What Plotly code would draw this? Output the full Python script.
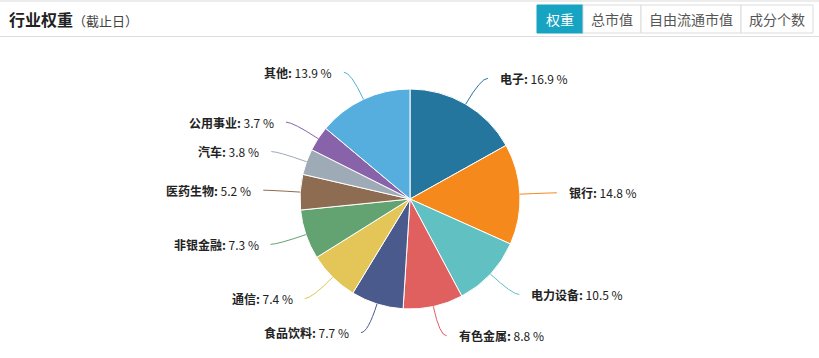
import math
import plotly.graph_objects as go

# ---- data ----
industries = ["电子", "银行", "电力设备", "有色金属", "食品饮料", "通信",
              "非银金融", "医药生物", "汽车", "公用事业", "其他"]
weights = [16.9, 14.8, 10.5, 8.8, 7.7, 7.4, 7.3, 5.2, 3.8, 3.7, 13.9]
colors = ["#24769f", "#f5891b", "#60c0c2", "#e05f5f", "#4b5a8d", "#e3c558",
          "#63a372", "#8e6c51", "#9eaab5", "#8863aa", "#55aedd"]
title_main = "行业权重"
title_sub = "（截止日）"
buttons = ["权重", "总市值", "自由流通市值", "成分个数"]

# ---- layout constants (pixels) ----
W, H = 819, 358
CX, CY, R = 410, 199, 110
FONT = "Noto Sans CJK SC, Microsoft YaHei, sans-serif"


def px(x):
    return x / W


def py(y):
    return 1 - y / H


fig = go.Figure()
fig.add_trace(go.Pie(
    labels=industries, values=weights, sort=False, direction="clockwise",
    rotation=0, marker=dict(colors=colors, line=dict(color="white", width=1)),
    textinfo="none", hoverinfo="label+percent", showlegend=False,
    domain=dict(x=[px(CX - R), px(CX + R)], y=[py(CY + R), py(CY - R)]),
))

shapes = []
annotations = []
total = sum(weights)
cum = 0.0
for name, v, col in zip(industries, weights, colors):
    theta = 2 * math.pi * (cum + v / 2) / total
    cum += v
    s, c = math.sin(theta), -math.cos(theta)
    ex, ey = CX + R * s, CY + R * c
    bx, by = CX + (R + 30) * s, CY + (R + 30) * c
    right = s >= 0
    tx = bx + (7 if right else -7)
    shapes.append(dict(
        type="path", xref="paper", yref="paper",
        path=f"M {px(ex)} {py(ey)} Q {px(bx)} {py(by)} {px(tx)} {py(by)}",
        line=dict(color=col, width=1)))
    annotations.append(dict(
        x=px(tx + (10 if right else -10)), y=py(by), xref="paper", yref="paper",
        xanchor="left" if right else "right", yanchor="middle", showarrow=False,
        text=f"<b>{name}:</b> {v} %",
        font=dict(family=FONT, size=12, color="#222")))

# header
shapes.append(dict(type="rect", xref="paper", yref="paper", x0=0, x1=1,
                   y0=py(2), y1=py(0), fillcolor="#ececec", line=dict(width=0)))
shapes.append(dict(type="line", xref="paper", yref="paper", x0=0, x1=1,
                   y0=py(36.5), y1=py(36.5), line=dict(color="#dddddd", width=1)))
annotations.append(dict(x=px(7), y=py(19), xref="paper", yref="paper",
                        xanchor="left", yanchor="middle", showarrow=False,
                        text=f"<b>{title_main}</b><span style='font-size:13px;color:#444'>{title_sub}</span>",
                        font=dict(family=FONT, size=16, color="#222")))

edges = [537, 583, 641, 741, 813]
for i, b in enumerate(buttons):
    active = i == 0
    shapes.append(dict(type="rect", xref="paper", yref="paper",
                       x0=px(edges[i]), x1=px(edges[i + 1]), y0=py(33), y1=py(5),
                       fillcolor="#17a3c2" if active else "white",
                       line=dict(color="#17a3c2" if active else "#dcdcdc", width=1)))
    annotations.append(dict(x=px((edges[i] + edges[i + 1]) / 2), y=py(19),
                            xref="paper", yref="paper", xanchor="center",
                            yanchor="middle", showarrow=False, text=b,
                            font=dict(family=FONT, size=14,
                                      color="white" if active else "#555")))

fig.update_layout(width=W, height=H, margin=dict(l=0, r=0, t=0, b=0),
                  paper_bgcolor="white", plot_bgcolor="white",
                  shapes=shapes, annotations=annotations)
fig.write_html("out.html")
